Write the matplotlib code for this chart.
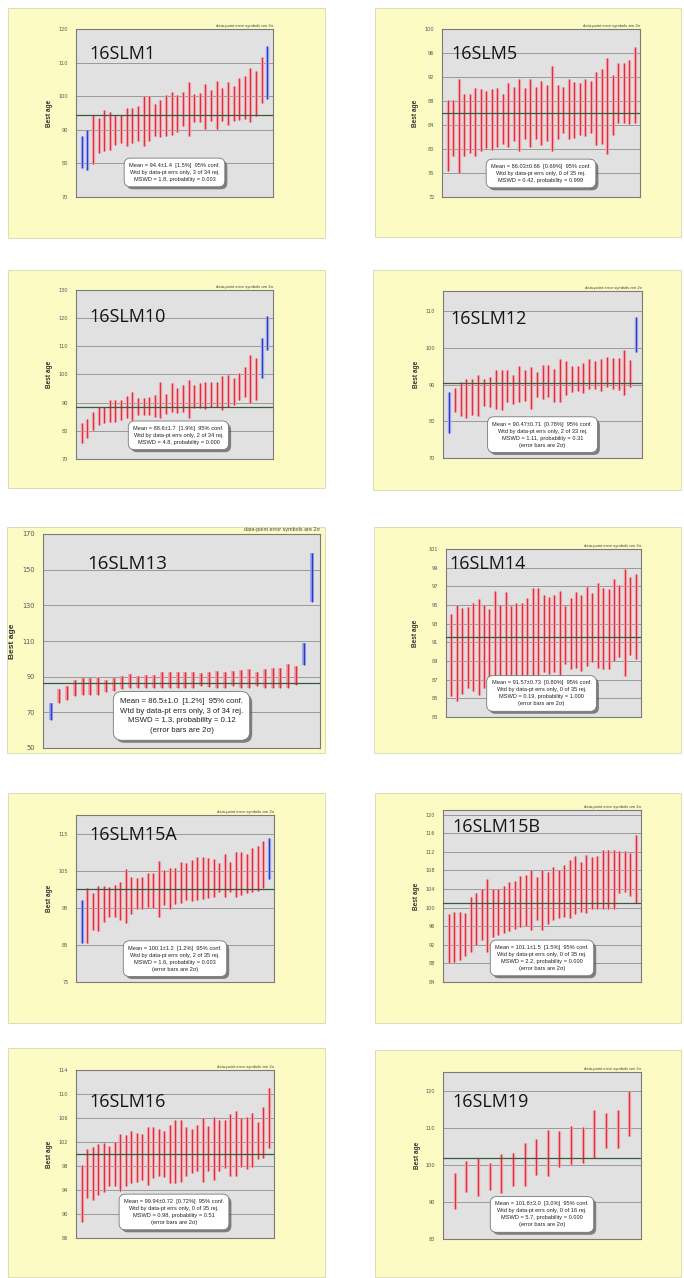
import matplotlib
matplotlib.use('Agg')
import matplotlib.pyplot as plt
from matplotlib.patches import Rectangle
import matplotlib.patheffects as pe
import numpy as np

# ---------------- DATA ----------------
names = ['16SLM1', '16SLM5', '16SLM10', '16SLM12', '16SLM13',
         '16SLM14', '16SLM15A', '16SLM15B', '16SLM16', '16SLM19']

means = [94.4, 86.03, 88.6, 90.47, 86.5, 91.57, 100.1, 101.1, 99.94, 101.8]

hi_16SLM1 = [88.3, 90.0, 94.5, 93.5, 95.8, 95.3, 94.5, 94.5, 96.5, 96.5, 97.2, 100.0, 100.0, 97.7, 98.8, 100.3, 101.2,
             100.5, 101.2, 104.1, 100.8, 101.0, 103.7, 101.7, 104.4, 102.4, 104.1, 103.1, 105.3, 106.1, 108.4, 107.6,
             111.7, 115.0]
lo_16SLM1 = [78.6, 78.1, 79.8, 83.1, 83.6, 84.1, 85.6, 86.1, 85.1, 86.1, 86.6, 85.1, 86.6, 88.1, 87.9, 88.1, 88.6,
             89.2, 91.0, 88.1, 92.2, 92.3, 90.2, 92.5, 90.3, 92.5, 91.5, 92.7, 92.8, 93.2, 92.4, 94.0, 98.0, 99.3]
rej_16SLM1 = [0, 1, 33]

hi_16SLM5 = [88.2, 88.2, 91.6, 89.2, 89.2, 90.2, 90.0, 89.6, 90.0, 90.2, 89.1, 91.0, 90.3, 91.6, 90.2, 91.7, 90.4,
             91.3, 90.7, 93.8, 90.6, 90.3, 91.6, 91.1, 91.0, 91.6, 91.3, 92.9, 93.3, 95.2, 92.4, 94.4, 94.4, 94.8, 97.0]
lo_16SLM5 = [76.4, 78.8, 76.0, 78.8, 79.3, 78.8, 79.6, 80.2, 79.9, 80.4, 80.9, 80.4, 81.3, 79.6, 81.6, 80.4, 81.6,
             80.7, 81.3, 79.6, 81.6, 82.7, 81.6, 81.8, 82.4, 82.1, 82.6, 80.7, 80.9, 79.1, 82.4, 84.3, 84.3, 84.1, 84.4]
rej_16SLM5 = []

hi_16SLM10 = [82.7, 84.1, 86.8, 88.6, 88.6, 90.9, 90.9, 90.9, 92.5, 93.9, 91.8, 91.8, 92.1, 92.7, 97.2, 93.0, 96.9,
              95.1, 96.3, 98.0, 96.3, 96.9, 97.5, 97.5, 97.5, 99.6, 99.8, 98.6, 100.4, 102.8, 106.9, 105.7, 112.8, 120.8]
lo_16SLM10 = [75.6, 77.6, 80.3, 82.1, 82.7, 83.3, 83.3, 83.9, 84.5, 83.9, 85.6, 85.6, 85.6, 85.0, 84.5, 85.9, 86.8,
              86.2, 86.8, 84.5, 88.0, 88.0, 87.8, 88.6, 88.6, 87.4, 88.6, 89.2, 90.9, 92.1, 89.8, 90.9, 98.9, 108.7]
rej_16SLM10 = [32, 33]

hi_16SLM12 = [87.9, 89.0, 90.8, 91.4, 91.6, 92.7, 91.4, 92.0, 94.1, 94.1, 93.9, 92.7, 95.0, 93.9, 94.8, 93.4, 95.4,
              95.4, 94.3, 96.9, 96.3, 95.2, 95.0, 96.0, 96.9, 96.3, 97.1, 97.5, 97.2, 97.2, 99.4, 96.6, 108.5]
lo_16SLM12 = [76.9, 82.6, 81.5, 81.0, 81.7, 81.5, 84.2, 83.8, 83.3, 83.1, 85.2, 84.7, 85.2, 85.6, 83.3, 86.5, 86.1,
              86.5, 85.2, 85.2, 87.2, 87.9, 88.3, 87.7, 88.8, 88.8, 88.3, 89.3, 88.8, 88.6, 87.2, 89.3, 98.9]
rej_16SLM12 = [0, 32]

hi_16SLM13 = [75.1, 83.0, 84.5, 88.3, 89.2, 89.2, 89.6, 88.3, 89.0, 90.2, 91.5, 90.5, 90.9, 90.9, 92.4, 92.8, 92.8,
              92.4, 92.4, 92.0, 92.6, 93.3, 92.8, 93.3, 93.9, 94.3, 92.8, 94.3, 94.7, 94.7, 97.1, 95.8, 109.0, 159.3]
lo_16SLM13 = [65.7, 75.5, 76.8, 79.2, 79.6, 79.6, 79.6, 81.5, 82.1, 83.0, 83.4, 83.4, 83.4, 83.9, 83.4, 83.9, 83.9,
              83.9, 83.9, 84.5, 84.2, 83.9, 83.9, 84.5, 83.9, 83.9, 84.5, 83.4, 83.4, 83.9, 83.9, 85.3, 96.6, 132.0]
rej_16SLM13 = [0, 32, 33]

hi_16SLM14 = [94.0, 95.0, 94.7, 94.8, 95.2, 95.6, 95.0, 94.6, 96.5, 95.0, 96.4, 94.9, 95.2, 95.2, 95.7, 96.8, 96.8,
              96.1, 95.9, 96.1, 96.5, 94.9, 95.7, 96.4, 96.1, 96.9, 96.3, 97.4, 96.8, 96.7, 97.8, 97.1, 98.9, 98.0, 98.3]
lo_16SLM14 = [85.2, 84.7, 85.5, 86.1, 85.8, 85.4, 86.1, 86.5, 85.3, 86.9, 85.6, 86.9, 87.0, 87.0, 87.0, 86.7, 86.7,
              87.8, 87.6, 87.8, 86.9, 88.7, 88.1, 88.3, 87.9, 88.5, 88.9, 88.3, 88.1, 88.1, 89.0, 89.4, 87.4, 89.6, 89.2]
rej_16SLM14 = []

hi_16SLM15A = [97.1, 100.2, 98.9, 100.9, 100.9, 100.7, 101.1, 102.0, 105.4, 103.2, 102.9, 103.4, 104.5, 104.3, 107.7,
               105.2, 105.6, 105.6, 107.4, 107.0, 107.9, 108.6, 108.6, 108.3, 108.1, 107.2, 109.5, 107.4, 110.1, 109.9,
               109.5, 111.0, 111.7, 113.1, 113.7]
lo_16SLM15A = [85.4, 85.6, 89.0, 88.8, 91.2, 92.6, 92.4, 91.7, 90.8, 93.3, 94.8, 94.8, 95.3, 95.0, 92.6, 95.7, 94.8,
               96.0, 96.4, 97.1, 96.9, 97.1, 97.5, 97.7, 98.0, 99.3, 97.8, 99.3, 98.0, 98.4, 99.1, 99.3, 99.6, 100.2,
               102.7]
rej_16SLM15A = [0, 34]

hi_16SLM15B = [98.6, 99.1, 99.1, 98.9, 102.2, 103.1, 104.1, 106.1, 104.1, 104.1, 104.6, 105.6, 105.8, 106.7, 107.0,
               108.0, 106.5, 108.2, 107.7, 108.7, 108.2, 109.2, 110.3, 111.1, 109.9, 111.3, 110.8, 111.1, 112.3, 112.4,
               112.4, 112.1, 112.1, 111.8, 115.7]
lo_16SLM15B = [88.1, 88.3, 88.7, 89.5, 90.5, 91.9, 93.0, 90.5, 93.7, 94.1, 94.6, 95.0, 95.5, 95.9, 96.0, 95.2, 97.3,
               95.2, 96.4, 97.3, 97.7, 97.9, 97.7, 98.7, 99.1, 98.9, 99.8, 99.8, 99.6, 99.8, 99.8, 103.1, 103.4, 102.5,
               100.9]
rej_16SLM15B = []

hi_16SLM16 = [98.1, 100.8, 101.2, 101.6, 101.8, 101.4, 102.0, 103.4, 103.1, 103.8, 103.5, 103.4, 104.5, 104.5, 104.1,
              103.9, 104.9, 105.7, 105.6, 104.5, 104.2, 104.9, 106.0, 104.6, 106.2, 105.7, 105.6, 106.6, 107.1, 106.0,
              106.2, 106.8, 105.4, 107.8, 111.0]
lo_16SLM16 = [88.6, 92.7, 92.4, 93.2, 93.6, 94.6, 94.6, 93.9, 94.7, 95.1, 95.4, 95.7, 94.9, 96.0, 96.3, 96.2, 95.2,
              95.2, 95.4, 96.4, 96.8, 97.1, 95.3, 97.1, 95.7, 97.1, 97.7, 96.4, 96.3, 97.8, 97.5, 97.9, 99.1, 99.3, 101.0]
rej_16SLM16 = []

hi_16SLM19 = [97.8, 100.9, 101.8, 100.4, 102.9, 103.1, 105.8, 106.9, 109.4, 109.2, 110.5, 110.1, 114.8, 113.9, 114.8,
              120.0]
lo_16SLM19 = [88.1, 92.6, 91.7, 93.3, 92.4, 94.3, 94.3, 97.3, 96.9, 99.4, 100.3, 100.6, 101.8, 104.5, 104.5, 107.8]
rej_16SLM19 = []

his = [hi_16SLM1, hi_16SLM5, hi_16SLM10, hi_16SLM12, hi_16SLM13, hi_16SLM14, hi_16SLM15A, hi_16SLM15B, hi_16SLM16, hi_16SLM19]
los = [lo_16SLM1, lo_16SLM5, lo_16SLM10, lo_16SLM12, lo_16SLM13, lo_16SLM14, lo_16SLM15A, lo_16SLM15B, lo_16SLM16, lo_16SLM19]
rejs = [rej_16SLM1, rej_16SLM5, rej_16SLM10, rej_16SLM12, rej_16SLM13, rej_16SLM14, rej_16SLM15A, rej_16SLM15B, rej_16SLM16, rej_16SLM19]

ylims = [(70, 120), (72, 100), (70, 130), (70, 115.5), (50, 170),
         (83, 101), (75, 120), (84, 121), (86, 114), (80, 125)]
yticks = [list(range(70, 121, 10)), list(range(72, 101, 4)), list(range(70, 131, 10)), list(range(70, 111, 10)),
          list(range(50, 171, 20)), list(range(83, 102, 2)), list(range(75, 116, 10)), list(range(84, 121, 4)),
          list(range(86, 115, 4)), list(range(80, 121, 10))]

stats = [
    ["Mean = 94.4±1.4  [1.5%]  95% conf.", "Wtd by data-pt errs only, 3 of 34 rej.", "MSWD = 1.8, probability = 0.003"],
    ["Mean = 86.03±0.66  [0.69%]  95% conf.", "Wtd by data-pt errs only, 0 of 35 rej.", "MSWD = 0.42, probability = 0.999"],
    ["Mean = 88.6±1.7  [1.9%]  95% conf.", "Wtd by data-pt errs only, 2 of 34 rej.", "MSWD = 4.8, probability = 0.000"],
    ["Mean = 90.47±0.71  [0.78%]  95% conf.", "Wtd by data-pt errs only, 2 of 33 rej.", "MSWD = 1.11, probability = 0.31", "(error bars are 2σ)"],
    ["Mean = 86.5±1.0  [1.2%]  95% conf.", "Wtd by data-pt errs only, 3 of 34 rej.", "MSWD = 1.3, probability = 0.12", "(error bars are 2σ)"],
    ["Mean = 91.57±0.73  [0.80%]  95% conf.", "Wtd by data-pt errs only, 0 of 35 rej.", "MSWD = 0.19, probability = 1.000", "(error bars are 2σ)"],
    ["Mean = 100.1±1.2  [1.2%]  95% conf.", "Wtd by data-pt errs only, 2 of 35 rej.", "MSWD = 1.6, probability = 0.003", "(error bars are 2σ)"],
    ["Mean = 101.1±1.5  [1.5%]  95% conf.", "Wtd by data-pt errs only, 0 of 35 rej.", "MSWD = 2.2, probability = 0.000", "(error bars are 2σ)"],
    ["Mean = 99.94±0.72  [0.72%]  95% conf.", "Wtd by data-pt errs only, 0 of 35 rej.", "MSWD = 0.98, probability = 0.51", "(error bars are 2σ)"],
    ["Mean = 101.8±3.0  [3.0%]  95% conf.", "Wtd by data-pt errs only, 0 of 16 rej.", "MSWD = 5.7, probability = 0.000", "(error bars are 2σ)"],
]
note_text = "data-point error symbols are 2σ"
ylabel_text = "Best age"

# ---------------- LAYOUT (pixels) ----------------
W, H = 684, 1278
yellow_px = [(8, 8, 325, 238), (375, 8, 681, 237), (8, 270, 325, 488), (373, 270, 681, 490),
             (7, 527, 325, 753), (374, 527, 681, 753), (8, 793, 325, 1023), (375, 793, 681, 1023),
             (8, 1048, 325, 1277), (375, 1050, 681, 1277)]
plot_px = [(76, 29, 273, 197), (442, 29, 640, 197), (76, 290, 273, 459), (443, 291, 642, 458),
           (43, 534, 320, 748), (446, 549, 641, 717), (76, 815, 274, 982), (443, 810, 641, 982),
           (76, 1070, 274, 1238), (443, 1072, 641, 1239)]
title_pos = [(0.07, 0.854), (0.05, 0.854), (0.07, 0.843), (0.035, 0.835), (0.16, 0.862),
             (0.02, 0.908), (0.07, 0.88), (0.045, 0.90), (0.07, 0.81), (0.045, 0.823)]
box_pos = [(0.50, 0.146), (0.50, 0.14), (0.52, 0.14), (0.50, 0.14), (0.50, 0.15),
           (0.49, 0.14), (0.50, 0.14), (0.50, 0.14), (0.495, 0.155), (0.50, 0.147)]
ylabel_off_px = [-23, -23, -23, -23, -27, -27, -23, -23, -23, -22]
big = [False, False, False, False, True, False, False, False, False, False]

fig = plt.figure(figsize=(W / 100, H / 100), dpi=100)
fig.patch.set_facecolor('white')

for i in range(len(names)):
    yx0, yy0, yx1, yy1 = yellow_px[i]
    fig.add_artist(Rectangle((yx0 / W, 1 - yy1 / H), (yx1 - yx0) / W, (yy1 - yy0) / H,
                             transform=fig.transFigure, fc='#fdfbc4', ec='#d9d8b4', lw=0.6, zorder=0))
    px0, py0, px1, py1 = plot_px[i]
    ax = fig.add_axes([px0 / W, 1 - py1 / H, (px1 - px0) / W, (py1 - py0) / H], zorder=2)
    ax.set_facecolor('#e1e1e1')
    b = big[i]
    hi = np.array(his[i]); lo = np.array(los[i])
    n = len(hi)
    x = np.arange(1, n + 1)
    isrej = np.zeros(n, bool)
    isrej[rejs[i]] = True
    ok = ~isrej
    wh = 2.8 if b else 2.4
    wc = 1.0 if b else 0.75
    ax.vlines(x[ok], lo[ok], hi[ok], colors='#f3a0aa', lw=wh, zorder=3)
    ax.vlines(x[ok], lo[ok], hi[ok], colors='#d8323e', lw=wc, zorder=4)
    if isrej.any():
        ax.vlines(x[isrej], lo[isrej], hi[isrej], colors='#9aa4ea', lw=wh, zorder=3)
        ax.vlines(x[isrej], lo[isrej], hi[isrej], colors='#2a3cc8', lw=wc, zorder=4)
    ax.axhline(means[i], color='#3b5a3b', lw=0.9, zorder=5)
    ax.set_xlim(0, n + 1)
    ax.set_ylim(*ylims[i])
    ax.set_yticks(yticks[i])
    ax.set_xticks([])
    ax.yaxis.grid(True, color='#8e8e8e', lw=0.6)
    ax.set_axisbelow(True)
    ax.tick_params(axis='y', length=0, pad=6 if b else 5.5, labelsize=4.8 if b else 3.6, labelcolor='#555555')
    for s in ax.spines.values():
        s.set_color('#7a7a7a')
        s.set_linewidth(0.8)
    ax.set_ylabel(ylabel_text, fontsize=6.0 if b else 4.7, fontweight='bold', color='#333333',
                  family='Liberation Sans')
    ax.yaxis.set_label_coords(ylabel_off_px[i] / (px1 - px0), 0.5)
    ax.text(title_pos[i][0], title_pos[i][1], names[i], transform=ax.transAxes, ha='left', va='center',
            fontsize=13.5 if b else 13, family='Open Sans', color='#151515', zorder=6)
    ax.text(1.0, 1.008, note_text, transform=ax.transAxes, ha='right', va='bottom',
            fontsize=3.9 if b else 3.0, color='#444444', family='Liberation Sans')
    t = ax.text(box_pos[i][0], box_pos[i][1], "\n".join(stats[i]), transform=ax.transAxes,
                ha='center', va='center', fontsize=5.6 if b else 4.1, linespacing=1.5,
                family='Liberation Sans', color='#222222', zorder=8,
                bbox=dict(boxstyle='round,pad=0.85,rounding_size=1.1', fc='white', ec='#777777', lw=0.6))
    t.get_bbox_patch().set_path_effects([pe.SimplePatchShadow(offset=(1.8, -1.8), shadow_rgbFace='#555555', alpha=0.7),
                                         pe.Normal()])

fig.savefig('out.png', dpi=100, facecolor='white')
